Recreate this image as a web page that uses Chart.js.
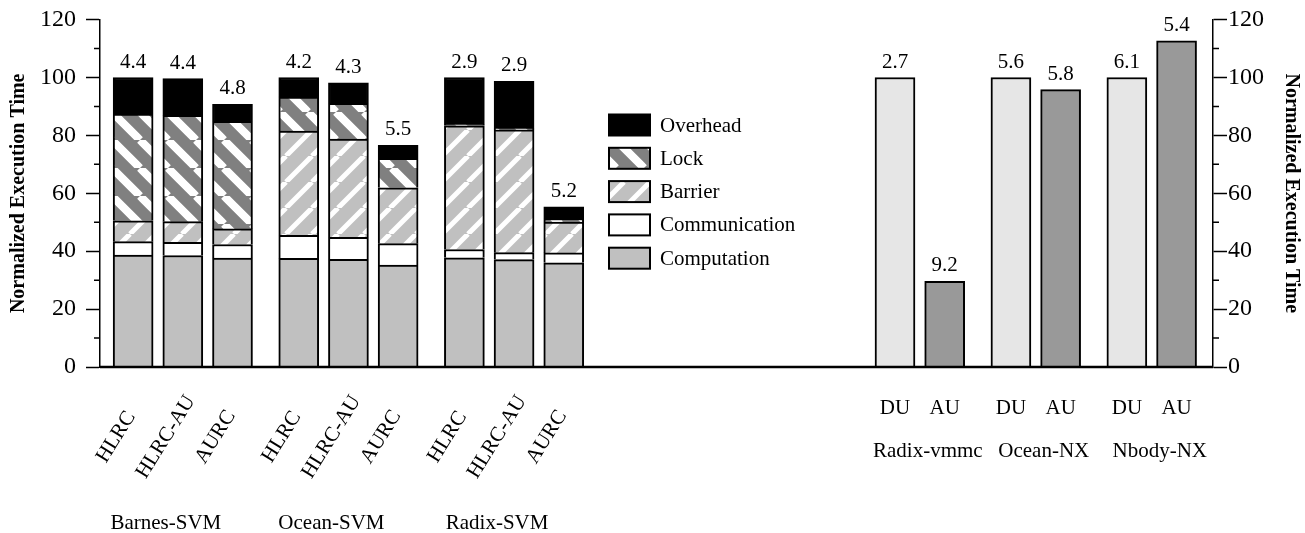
<!DOCTYPE html>
<html>
<head>
<meta charset="utf-8">
<title>Normalized Execution Time</title>
<script src="https://cdn.jsdelivr.net/npm/chart.js@4.4.0/dist/chart.umd.min.js"></script>
<style>
    html, body { margin: 0; padding: 0; background: #fff; }
    #wrap { width: 1305px; height: 533px; }
</style>
</head>
<body>
<div id="wrap"><canvas id="execChart" width="1305" height="533"></canvas></div>
<script>
// SVM 쪽: 프로토콜별 시간 분해 (stacked)
const svmApps = ["Barnes-SVM", "Ocean-SVM", "Radix-SVM"];
const svmProtocols = ["HLRC", "HLRC-AU", "AURC"];
const computation = [38.7, 38.5, 37.6, 37.5, 37.2, 35.2, 37.7, 37.1, 36.0];
const communication = [4.6, 4.6, 4.7, 8.0, 7.6, 7.4, 2.9, 2.4, 3.4];
const barrier = [7.2, 7.1, 5.4, 36.0, 33.9, 19.3, 42.7, 42.4, 10.7];
const lock = [36.9, 36.7, 37.2, 11.7, 12.4, 10.2, 0.5, 0.5, 1.0];
const overhead = [12.6, 12.7, 5.8, 6.8, 7.1, 4.5, 16.2, 16.3, 4.2];
const svmSpeedups = ["4.4", "4.4", "4.8", "4.2", "4.3", "5.5", "2.9", "2.9", "5.2"];

// NX / vmmc 쪽: DU vs AU
const nxApps = ["Radix-vmmc", "Ocean-NX", "Nbody-NX"];
const nxModes = ["DU", "AU"];
const duValues = [100, 100, 100];
const auValues = [29.6, 95.8, 112.7];
const duSpeedups = ["2.7", "5.6", "6.1"];
const auSpeedups = ["9.2", "5.8", "5.4"];

const yMax = 120;
const yStep = 20;

const FONT = "Liberation Serif, 'Times New Roman', serif";

/** 대각선 줄무늬 패턴. dir > 0 이면 '/', 아니면 '\' */
function makeStripes(bg, fg, size, band, dir) {
    const c = document.createElement("canvas");
    c.width = size;
    c.height = size;
    const g = c.getContext("2d");
    g.fillStyle = bg;
    g.fillRect(0, 0, size, size);
    g.strokeStyle = fg;
    g.lineWidth = band;
    g.beginPath();
    for (let k = -1; k <= 1; k++) {
        if (dir > 0) {
            g.moveTo(k * size, size);
            g.lineTo(k * size + size, 0);
        } else {
            g.moveTo(k * size, 0);
            g.lineTo(k * size + size, size);
        }
    }
    g.stroke();
    return g.createPattern(c, "repeat");
}

const lockFill = makeStripes("#808080", "#ffffff", 28, 8, -1);
const barrierFill = makeStripes("#c0c0c0", "#ffffff", 26, 5, 1);

// 막대 슬롯 위치 (그룹 내 3칸, 그룹 사이 4칸, 섹션 사이 20칸)
const svmPos = [];
const nxDuPos = [];
const nxAuPos = [];
let slot = 0;
svmApps.forEach(() => {
    svmProtocols.forEach(() => { svmPos.push(slot); slot += 3; });
    slot += 1;
});
slot += 16;
nxApps.forEach(() => {
    nxDuPos.push(slot);
    nxAuPos.push(slot + 3);
    slot += 7;
});

const pts = (pos, vals) => vals.map((v, i) => ({ x: pos[i], y: v }));

const segments = [
    { label: "Computation", data: computation, fill: "#c0c0c0" },
    { label: "Communication", data: communication, fill: "#ffffff" },
    { label: "Barrier", data: barrier, fill: barrierFill },
    { label: "Lock", data: lock, fill: lockFill },
    { label: "Overhead", data: overhead, fill: "#000000" },
];

const barBase = { borderColor: "#000", borderWidth: 2, barThickness: 40 };

const datasets = segments.map((s) => Object.assign({
    label: s.label,
    data: pts(svmPos, s.data),
    backgroundColor: s.fill,
}, barBase));
datasets.push(Object.assign({ label: "DU", data: pts(nxDuPos, duValues), backgroundColor: "#e6e6e6" }, barBase));
datasets.push(Object.assign({ label: "AU", data: pts(nxAuPos, auValues), backgroundColor: "#999999" }, barBase));

/** 막대 위 숫자, x축 라벨, 보조 눈금, 범례를 직접 그린다. */
const decorPlugin = {
    id: "decorPlugin",
    afterDraw(chart) {
        const { ctx, scales, chartArea } = chart;
        const x = scales.x;
        const y = scales.y;
        ctx.save();

        // x축 굵은 선
        ctx.strokeStyle = "#000";
        ctx.lineWidth = 2.5;
        ctx.beginPath();
        ctx.moveTo(chartArea.left, chartArea.bottom);
        ctx.lineTo(chartArea.right, chartArea.bottom);
        ctx.stroke();

        // 보조 눈금 (10 단위)
        ctx.lineWidth = 1.5;
        for (let v = yStep / 2; v < yMax; v += yStep) {
            const py = y.getPixelForValue(v);
            ctx.beginPath();
            ctx.moveTo(chartArea.left - 6, py);
            ctx.lineTo(chartArea.left, py);
            ctx.moveTo(chartArea.right, py);
            ctx.lineTo(chartArea.right + 6, py);
            ctx.stroke();
        }

        ctx.fillStyle = "#000";
        ctx.font = `21px ${FONT}`;
        ctx.textAlign = "center";
        ctx.textBaseline = "alphabetic";

        // 막대 위 값
        svmPos.forEach((p, i) => {
            const top = computation[i] + communication[i] + barrier[i] + lock[i] + overhead[i];
            ctx.fillText(svmSpeedups[i], x.getPixelForValue(p), y.getPixelForValue(top) - 10);
        });
        nxDuPos.forEach((p, i) => {
            ctx.fillText(duSpeedups[i], x.getPixelForValue(p), y.getPixelForValue(duValues[i]) - 10);
        });
        nxAuPos.forEach((p, i) => {
            ctx.fillText(auSpeedups[i], x.getPixelForValue(p), y.getPixelForValue(auValues[i]) - 10);
        });

        // 회전된 프로토콜 라벨
        ctx.textBaseline = "middle";
        svmPos.forEach((p, i) => {
            ctx.save();
            ctx.translate(x.getPixelForValue(p) - 17, chartArea.bottom + 70);
            ctx.rotate(-58 * Math.PI / 180);
            ctx.fillText(svmProtocols[i % svmProtocols.length], 0, 0);
            ctx.restore();
        });
        svmApps.forEach((name, g) => {
            const mid = svmPos[g * 3 + 1];
            ctx.fillText(name, x.getPixelForValue(mid) - 17, chartArea.bottom + 156);
        });

        // DU / AU 라벨
        nxApps.forEach((name, g) => {
            const du = x.getPixelForValue(nxDuPos[g]);
            const au = x.getPixelForValue(nxAuPos[g]);
            ctx.fillText(nxModes[0], du, chartArea.bottom + 41);
            ctx.fillText(nxModes[1], au, chartArea.bottom + 41);
            ctx.fillText(name, (du + au) / 2 + 8, chartArea.bottom + 84);
        });

        // 범례 (위에서부터 Overhead ... Computation)
        const legendItems = segments.slice().reverse();
        ctx.textAlign = "left";
        legendItems.forEach((s, i) => {
            const cy = 125 + i * 33.3;
            ctx.fillStyle = s.fill;
            ctx.fillRect(609, cy - 10.5, 41, 21);
            ctx.strokeStyle = "#000";
            ctx.lineWidth = 2;
            ctx.strokeRect(609, cy - 10.5, 41, 21);
            ctx.fillStyle = "#000";
            ctx.fillText(s.label, 660, cy + 1);
        });

        ctx.restore();
    }
};

const yAxisBase = {
    min: 0,
    max: yMax,
    ticks: { stepSize: yStep, color: "#000", font: { family: FONT, size: 24, lineHeight: 0.8 } },
    grid: { drawOnChartArea: false, tickLength: 14, tickColor: "#000", tickWidth: 1.5 },
    border: { color: "#000", width: 1.5 },
};

new Chart(document.getElementById("execChart").getContext("2d"), {
    type: "bar",
    data: { datasets: datasets },
    options: {
        responsive: false,
        animation: false,
        events: [],
        layout: { padding: { top: 18, bottom: 166, left: 0, right: 0 } },
        plugins: { legend: { display: false }, tooltip: { enabled: false } },
        scales: {
            x: {
                type: "linear", min: -2, max: 65.2, stacked: true, display: false,
                offset: false, grid: { offset: false },
            },
            y: Object.assign({}, yAxisBase, {
                position: "left",
                stacked: true,
                ticks: Object.assign({}, yAxisBase.ticks, { padding: 10 }),
                title: {
                    display: true,
                    text: "Normalized Execution Time",
                    color: "#000",
                    font: { family: FONT, size: 20, weight: "bold" },
                    padding: { top: 7, bottom: 0 },
                },
                afterFit(s) { s.width = 100; },
            }),
            y2: Object.assign({}, yAxisBase, {
                position: "right",
                ticks: Object.assign({}, yAxisBase.ticks, { padding: 1 }),
                title: {
                    display: true,
                    text: "Normalized Execution Time",
                    color: "#000",
                    font: { family: FONT, size: 20, weight: "bold" },
                    padding: { top: 2, bottom: 0 },
                },
                afterFit(s) { s.width = 92; },
            }),
        },
    },
    plugins: [decorPlugin],
});
</script>
</body>
</html>
